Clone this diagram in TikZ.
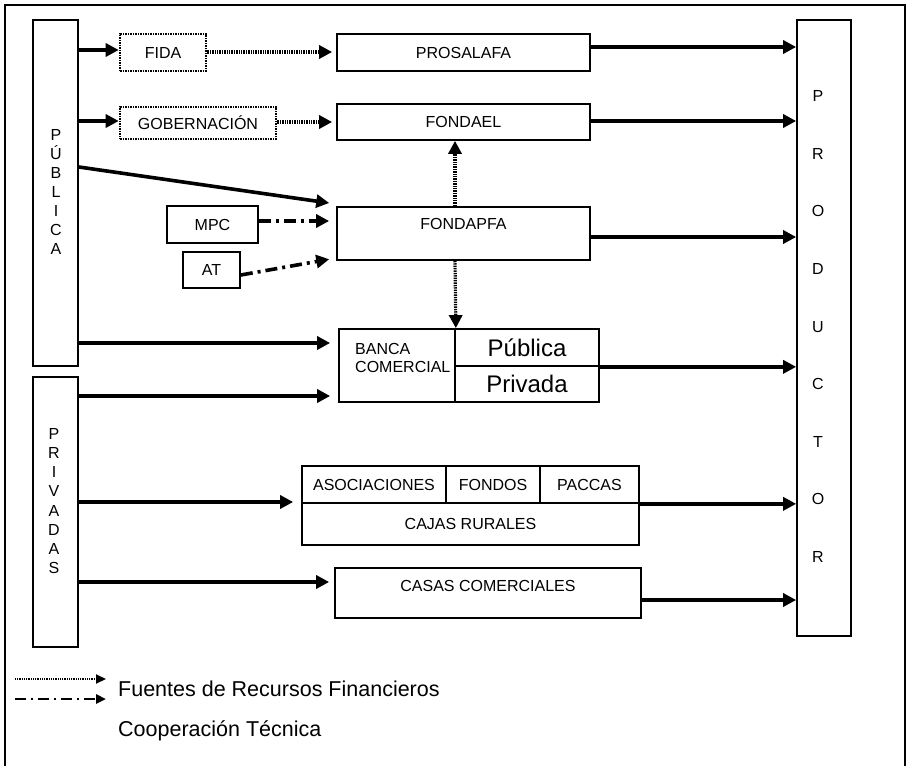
\documentclass[tikz,border=0pt]{standalone}
\usepackage{fontspec}
\setmainfont{Liberation Sans}
\usetikzlibrary{arrows.meta}
\begin{document}
\begin{tikzpicture}[x=1pt,y=-1pt,
  box/.style={draw,line width=1.7pt,inner sep=0pt,font=\fontsize{16}{19}\selectfont,anchor=center},
  dotbox/.style={box,line width=2.6pt,dash pattern=on 1.5pt off 1pt},
  txt/.style={inner sep=0pt,font=\fontsize{16}{19}\selectfont},
  arr/.style={line width=3.6pt,-{Triangle[length=13pt,width=13pt]}},
  dotarr/.style={arr,line width=3.2pt,dash pattern=on 1.4pt off 1pt},
  dasharr/.style={arr,dash pattern=on 12pt off 5pt on 3pt off 5pt},
  legdot/.style={line width=2pt,dash pattern=on 1pt off 0.8pt,-{Triangle[length=10pt,width=9pt]}},
  legdash/.style={line width=2.8pt,dash pattern=on 11pt off 5pt on 2pt off 5pt,-{Triangle[length=10pt,width=9pt]}}
]
\useasboundingbox (0,0) rectangle (909,765);
% frame
\draw[line width=2.2pt] (5,766) -- (5,5) -- (905,5) -- (905,766);

% side boxes
\node[box,minimum width=45pt,minimum height=346pt] (pub) at (55.5,193) {};
\node[txt,align=center,font=\fontsize{16}{19}\selectfont] (pubt) at (56,192) {P\\Ú\\B\\L\\I\\C\\A};
\node[box,minimum width=45pt,minimum height=270pt] (priv) at (55.5,512) {};
\node[txt,align=center,font=\fontsize{16}{19.2}\selectfont] (privt) at (54,501) {P\\R\\I\\V\\A\\D\\A\\S};
\node[box,minimum width=54pt,minimum height=616pt] (prod) at (824,328) {};
\node[txt,align=center,font=\fontsize{16}{57.6}\selectfont] (prodt) at (818,326.5) {P\\R\\O\\D\\U\\C\\T\\O\\R};

% boxes
\node[dotbox,minimum width=86pt,minimum height=37pt] (fida) at (163,52.5) {FIDA};
\node[dotbox,minimum width=156pt,minimum height=32pt] (gob) at (198,123) {GOBERNACIÓN};
\node[box,minimum width=253pt,minimum height=37pt] (prosa) at (463.5,52.5) {PROSALAFA};
\node[box,minimum width=253pt,minimum height=36pt] (fondael) at (463.5,122) {FONDAEL};
\node[box,minimum width=253pt,minimum height=53pt] (fondapfa) at (463.5,233.5) {};
\node[txt] (fondapfat) at (463.5,224) {FONDAPFA};
\node[box,minimum width=91pt,minimum height=37pt] (mpc) at (212.5,224.5) {MPC};
\node[box,minimum width=57pt,minimum height=36pt] (at) at (211.5,270) {AT};

\node[box,minimum width=116pt,minimum height=73pt] (bancal) at (397,365.5) {};
\node[txt,align=left,anchor=west,font=\fontsize{16}{18}\selectfont] (bancat) at (355,358) {BANCA\\COMERCIAL};
\node[box,minimum width=144pt,minimum height=37pt,font=\fontsize{24}{28}\selectfont] (bpub) at (527,347.5) {Pública};
\node[box,minimum width=144pt,minimum height=36pt,font=\fontsize{24}{28}\selectfont] (bpriv) at (527,384) {Privada};

\node[box,minimum width=144pt,minimum height=37pt] (asoc) at (374,484.5) {ASOCIACIONES};
\node[box,minimum width=94pt,minimum height=37pt] (fondos) at (493,484.5) {FONDOS};
\node[box,minimum width=99pt,minimum height=37pt] (paccas) at (589.5,484.5) {PACCAS};
\node[box,minimum width=337pt,minimum height=42pt] (cajas) at (470.5,524) {CAJAS RURALES};

\node[box,minimum width=306pt,minimum height=50pt] (casas) at (488,593) {};
\node[txt] (casast) at (488,586) {CASAS COMERCIALES};

% connectors from PUBLICA
\draw[arr] (pub.east |- 0,50) -- (fida.west |- 0,50);
\draw[arr] (pub.east |- 0,121) -- (gob.west |- 0,121);
\draw[arr,shorten >=7pt] (pub.east |- 0,167) -- (fondapfa.west |- 0,204);
\draw[arr,shorten >=8pt] (pub.east |- 0,343) -- (bancal.west |- 0,343);
% from PRIVADAS
\draw[arr,shorten >=8pt] (priv.east |- 0,396) -- (bancal.west |- 0,396);
\draw[arr,shorten >=8pt] (priv.east |- 0,502) -- (asoc.west |- 0,502);
\draw[arr,shorten >=5pt] (priv.east |- 0,582) -- (casas.west |- 0,582);

% dotted
\draw[dotarr,shorten >=4pt] (fida.east |- 0,52) -- (prosa.west |- 0,52);
\draw[dotarr,shorten >=4pt] (gob.east |- 0,122) -- (fondael.west |- 0,122);
\draw[dotarr] (fondapfa.north -| 455,0) -- (fondael.south -| 455,0);
\draw[dotarr] (fondapfa.south -| 455,0) -- (bancal.north east);

% dash-dot
\draw[dasharr,shorten >=7pt] (mpc.east |- 0,221) -- (fondapfa.west |- 0,221);
\draw[dasharr,shorten >=7pt] (at.east |- 0,275) -- (fondapfa.west |- 0,258);

% to PRODUCTOR
\draw[arr] (prosa.east |- 0,47) -- (prod.west |- 0,47);
\draw[arr] (fondael.east |- 0,121) -- (prod.west |- 0,121);
\draw[arr] (fondapfa.east |- 0,237) -- (prod.west |- 0,237);
\draw[arr] (bpub.south east) -- (prod.west |- bpub.south east);
\draw[arr] (paccas.south east) -- (prod.west |- paccas.south east);
\draw[arr] (casas.east |- 0,600) -- (prod.west |- 0,600);

% legend
\coordinate (l1a) at (15,679);
\coordinate (l1b) at (106,679);
\coordinate (l2a) at (15,699);
\coordinate (l2b) at (106,699);
\draw[legdot] (l1a) -- (l1b);
\draw[legdash] (l2a) -- (l2b);
\node[anchor=base west,inner sep=0pt,font=\fontsize{21.5}{24}\selectfont] (leg1) at (118,696) {Fuentes de Recursos Financieros};
\node[anchor=base west,inner sep=0pt,font=\fontsize{21.5}{24}\selectfont] (leg2) at (118,736) {Cooperación Técnica};
\end{tikzpicture}
\end{document}
